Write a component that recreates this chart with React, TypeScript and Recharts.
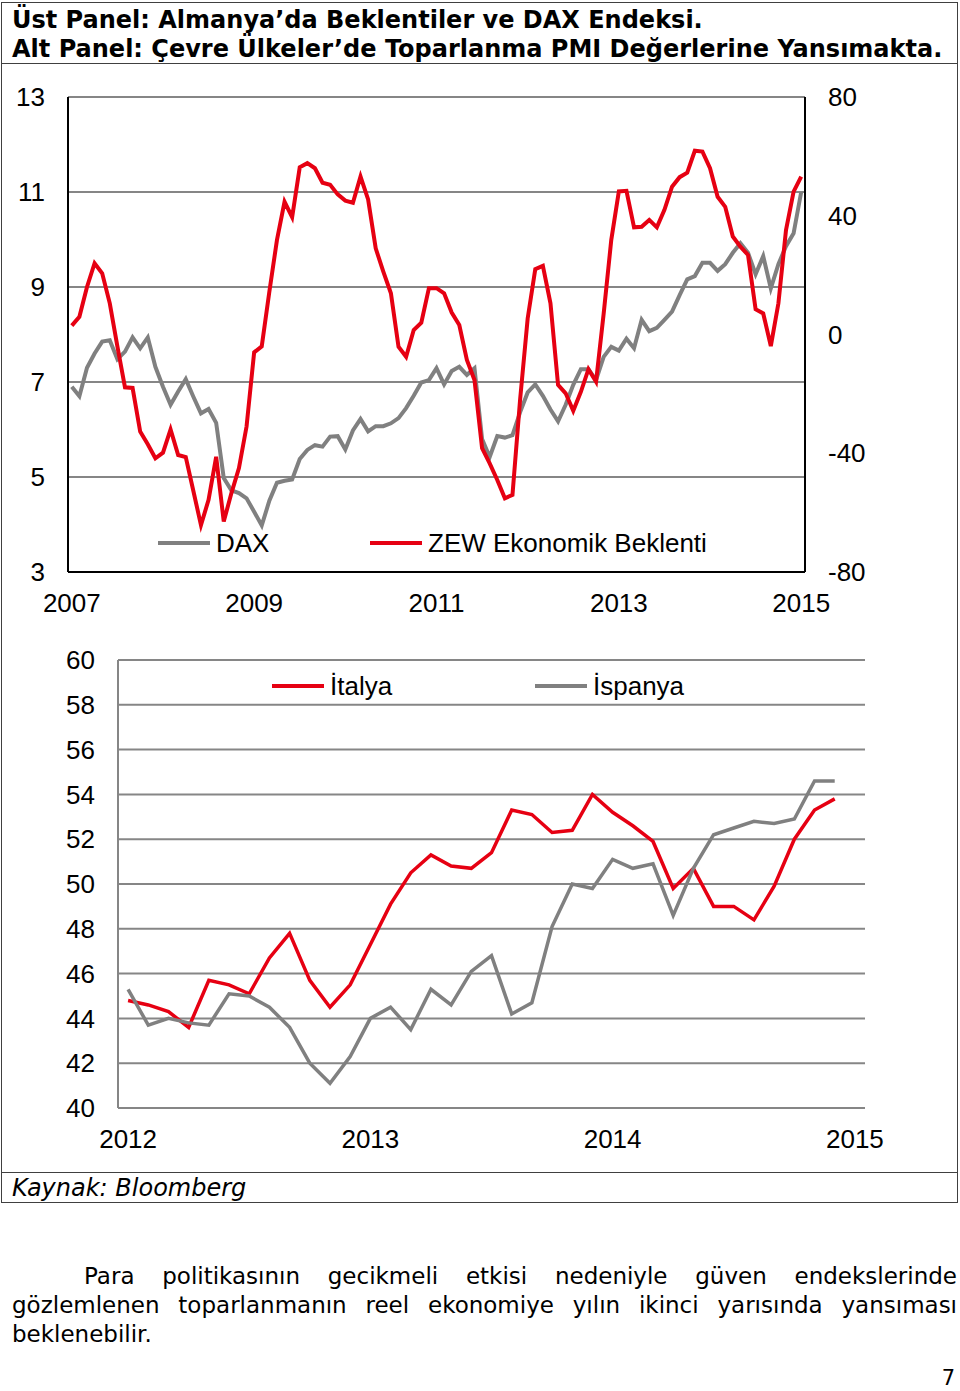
import React from 'react'
import { LineChart, Line, XAxis, YAxis, CartesianGrid, Legend } from 'recharts'

const FONT = '"Liberation Sans", Arial, sans-serif'
const PAGE_FONT = '"DejaVu Sans", sans-serif'

const topYears = ['2007', '2009', '2011', '2013', '2015']
const bottomYears = ['2012', '2013', '2014', '2015']
const daxTicks = [3, 5, 7, 9, 11, 13]
const zewTicks = [-80, -40, 0, 40, 80]
const pmiTicks = [40, 42, 44, 46, 48, 50, 52, 54, 56, 58, 60]

// DAX endeksi (bin puan), aylık
const dax = [
  6.9, 6.7, 7.3, 7.6, 7.85, 7.88, 7.48, 7.64, 7.94, 7.71, 7.94, 7.32,
  6.9, 6.52, 6.8, 7.06, 6.69, 6.34, 6.43, 6.14, 4.98, 4.72, 4.66, 4.55,
  4.27, 3.98, 4.5, 4.88, 4.92, 4.95, 5.38, 5.57, 5.67, 5.64, 5.85, 5.86,
  5.58, 5.98, 6.22, 5.96, 6.07, 6.07, 6.13, 6.24, 6.45, 6.71, 6.99, 7.04,
  7.29, 6.95, 7.23, 7.32, 7.15, 7.29, 5.8, 5.42, 5.86, 5.83, 5.88, 6.36,
  6.78, 6.95, 6.71, 6.42, 6.17, 6.52, 6.94, 7.27, 7.27, 7.04, 7.53, 7.74,
  7.66, 7.91, 7.71, 8.31, 8.07, 8.14, 8.31, 8.48, 8.83, 9.16, 9.23, 9.51,
  9.51, 9.34, 9.48, 9.72, 9.92, 9.72, 9.27, 9.65, 8.97, 9.48, 9.86, 10.13,
  11.0,
]

// ZEW Ekonomik Beklenti endeksi, aylık
const zew = [
  3, 6, 16, 24, 20.6, 10.5, -4, -17.8, -18, -32.7, -37, -41.7,
  -39.8, -32, -40.6, -41.3, -52.7, -64.2, -55.7, -41.2, -63, -53.5, -45, -31,
  -6, -4, 14.4, 31.8, 44.7, 39.5, 56.3, 57.7, 56, 51.1, 50.4, 47.2,
  45.1, 44.4, 53.2, 45.5, 29, 21.2, 13.9, -4.1, -7.5, 1.5, 4, 15.6,
  15.6, 13.9, 7.4, 3.2, -8.6, -15.3, -38.3, -43.4, -49, -55.2, -54, -22,
  5.4, 22, 23.1, 10.5, -17, -19.8, -25.7, -19.3, -11.7, -15.9, 7, 31.8,
  48.2, 48.4, 36.1, 36.3, 38.6, 36.1, 42, 49.8, 53, 54.5, 61.9, 61.6,
  56, 46.4, 43, 33, 29.6, 26.8, 8.5, 7.1, -3.9, 10.5, 35.2, 48.1,
  53.2,
]

// İmalat PMI, 2012-2014 aylık
const italya = [
  44.8, 44.6, 44.3, 43.6, 45.7, 45.5, 45.1, 46.7, 47.8, 45.7, 44.5, 45.5,
  47.3, 49.1, 50.5, 51.3, 50.8, 50.7, 51.4, 53.3, 53.1, 52.3, 52.4, 54.0,
  53.2, 52.6, 51.9, 49.8, 50.7, 49.0, 49.0, 48.4, 49.9, 52.0, 53.3, 53.8,
]
const ispanya = [
  45.3, 43.7, 44.0, 43.8, 43.7, 45.1, 45.0, 44.5, 43.6, 42.0, 41.1, 42.3,
  44.0, 44.5, 43.5, 45.3, 44.6, 46.1, 46.8, 44.2, 44.7, 48.1, 50.0, 49.8,
  51.1, 50.7, 50.9, 48.6, 50.7, 52.2, 52.5, 52.8, 52.7, 52.9, 54.6, 54.6,
]

const topData = dax.map((d, i) => ({ i, dax: d, zew: zew[i] }))
const bottomData = italya.map((v, i) => ({ i, italya: v, ispanya: ispanya[i] }))

const tickStyle = { fill: '#000', fontSize: 26, fontFamily: FONT }

// legend keeps the series order instead of recharts' alphabetical sort
function LineLegend({ payload, itemWidth, order }: any) {
  const items = [...(payload || [])].sort((a: any, b: any) => order.indexOf(a.value) - order.indexOf(b.value))
  return (
    <div style={{ display: 'flex', fontFamily: FONT, fontSize: 26, color: '#000', lineHeight: '30px', whiteSpace: 'nowrap' }}>
      {items.map((p: any, k: number) => (
        <div key={p.value} style={{ width: k === 0 ? itemWidth : undefined, flex: 'none', display: 'flex', alignItems: 'center' }}>
          <span style={{ display: 'inline-block', width: 52, height: 4, background: p.color, marginRight: 6 }} />
          <span>{p.value}</span>
        </div>
      ))}
    </div>
  )
}

function TopChart() {
  return (
    <LineChart width={960} height={560} data={topData} margin={{ top: 27, right: 75, bottom: 8, left: 8 }}>
      <CartesianGrid yAxisId="left" vertical={false} stroke="#868686" strokeWidth={2} />
      <XAxis
        dataKey="i" type="number" domain={[-0.5, 96.5]} ticks={[0, 24, 48, 72, 96]}
        tickFormatter={(v) => topYears[v / 24]} height={50}
        axisLine={{ stroke: '#000', strokeWidth: 2 }} tickLine={false} tickSize={0} tickMargin={22}
        tick={tickStyle} interval={0}
      />
      <XAxis xAxisId="top" orientation="top" dataKey="i" type="number" domain={[-0.5, 96.5]}
        height={0} tick={false} tickLine={false} axisLine={{ stroke: '#000', strokeWidth: 2 }} />
      <YAxis
        yAxisId="left" domain={[3, 13]} ticks={daxTicks} width={60} interval={0}
        axisLine={{ stroke: '#000', strokeWidth: 2 }} tickLine={false} tickSize={0} tickMargin={23}
        tick={tickStyle}
      />
      <YAxis
        yAxisId="right" orientation="right" domain={[-80, 80]} ticks={zewTicks} width={80} interval={0}
        axisLine={{ stroke: '#000', strokeWidth: 2 }} tickLine={false} tickSize={0} tickMargin={23}
        tick={{ ...tickStyle, textAnchor: 'start' }}
      />
      <Legend
        layout="vertical" align="center" verticalAlign="middle"
        wrapperStyle={{ top: 458, left: 158, width: 700 }}
        content={(props: any) => <LineLegend {...props} itemWidth={212} order={['DAX', 'ZEW Ekonomik Beklenti']} />}
      />
      <Line yAxisId="left" type="linear" dataKey="dax" name="DAX" stroke="#808080" strokeWidth={4}
        dot={false} isAnimationActive={false} />
      <Line yAxisId="right" type="linear" dataKey="zew" name="ZEW Ekonomik Beklenti" stroke="#e60012"
        strokeWidth={4} dot={false} isAnimationActive={false} />
    </LineChart>
  )
}

function BottomChart() {
  return (
    <LineChart width={960} height={540} data={bottomData} margin={{ top: 20, right: 95, bottom: 22, left: 8 }}>
      <CartesianGrid yAxisId="pmi" vertical={false} stroke="#868686" strokeWidth={2} />
      <XAxis
        dataKey="i" type="number" domain={[-0.5, 36.5]} ticks={[0, 12, 24, 36]}
        tickFormatter={(v) => bottomYears[v / 12]} height={50}
        axisLine={{ stroke: '#868686', strokeWidth: 2 }} tickLine={false} tickSize={0} tickMargin={22}
        tick={tickStyle} interval={0}
      />
      <XAxis xAxisId="top" orientation="top" dataKey="i" type="number" domain={[-0.5, 36.5]}
        height={0} tick={false} tickLine={false} axisLine={{ stroke: '#868686', strokeWidth: 2 }} />
      <YAxis
        yAxisId="pmi" domain={[40, 60]} ticks={pmiTicks} width={110} interval={0}
        axisLine={{ stroke: '#868686', strokeWidth: 2 }} tickLine={false} tickSize={0} tickMargin={23}
        tick={tickStyle}
      />
      <YAxis yAxisId="frame" orientation="right" domain={[40, 60]} width={0} tick={false} tickLine={false}
        axisLine={{ stroke: '#868686', strokeWidth: 2 }} />
      <Legend
        layout="vertical" align="center" verticalAlign="middle"
        wrapperStyle={{ top: 31, left: 272, width: 600 }}
        content={(props: any) => <LineLegend {...props} itemWidth={263} order={['İtalya', 'İspanya']} />}
      />
      <Line yAxisId="pmi" type="linear" dataKey="italya" name="İtalya" stroke="#e60012" strokeWidth={3.5}
        dot={false} isAnimationActive={false} />
      <Line yAxisId="pmi" type="linear" dataKey="ispanya" name="İspanya" stroke="#808080" strokeWidth={3.5}
        dot={false} isAnimationActive={false} />
    </LineChart>
  )
}

export default function App() {
  const rule = { position: 'absolute' as const, left: 1, width: 956, height: 0, borderTop: '1.5px solid #404040' }
  const bodyLine = { fontFamily: PAGE_FONT, fontSize: 23, color: '#000', height: 29, lineHeight: '29px', whiteSpace: 'nowrap' as const }
  return (
    <div style={{ position: 'absolute', left: 0, top: 0, width: 960, height: 1391, background: '#fff', overflow: 'hidden' }}>
      <div style={{ position: 'absolute', left: 1, top: 2, width: 955, height: 1199, border: '1.5px solid #404040' }} />
      <div style={{ ...rule, top: 63 }} />
      <div style={{ ...rule, top: 1172 }} />
      <div style={{ position: 'absolute', left: 12, top: 6, fontFamily: PAGE_FONT, fontWeight: 'bold', fontSize: 24, lineHeight: '29px', color: '#000', whiteSpace: 'nowrap' }}>
        <div>Üst Panel: Almanya’da Beklentiler ve DAX Endeksi.</div>
        <div>Alt Panel: Çevre Ülkeler’de Toparlanma PMI Değerlerine Yansımakta.</div>
      </div>
      <div style={{ position: 'absolute', left: 0, top: 70 }}>
        <TopChart />
      </div>
      <div style={{ position: 'absolute', left: 0, top: 640 }}>
        <BottomChart />
      </div>
      <div style={{ position: 'absolute', left: 12, top: 1174, fontFamily: PAGE_FONT, fontStyle: 'italic', fontSize: 24, lineHeight: '28px', color: '#000' }}>
        Kaynak: Bloomberg
      </div>
      <div style={{ position: 'absolute', left: 12, top: 1262, width: 945 }}>
        <div style={{ ...bodyLine, textAlign: 'justify', textAlignLast: 'justify', paddingLeft: 72, whiteSpace: 'normal' }}>
          Para politikasının gecikmeli etkisi nedeniyle güven endekslerinde
        </div>
        <div style={{ ...bodyLine, textAlign: 'justify', textAlignLast: 'justify', whiteSpace: 'normal' }}>
          gözlemlenen toparlanmanın reel ekonomiye yılın ikinci yarısında yansıması
        </div>
        <div style={bodyLine}>beklenebilir.</div>
      </div>
      <div style={{ position: 'absolute', right: 5, top: 1367, fontFamily: PAGE_FONT, fontSize: 21, lineHeight: '22px', color: '#000' }}>
        7
      </div>
    </div>
  )
}
